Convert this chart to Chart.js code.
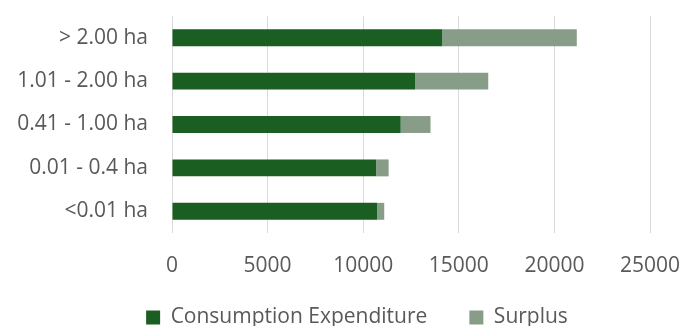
<!DOCTYPE html>
<html>
<head>
<meta charset="utf-8">
<script src="https://cdn.jsdelivr.net/npm/chart.js@4/dist/chart.umd.min.js"></script>
<style>
  html, body { margin: 0; padding: 0; background: #ffffff; overflow: hidden; }
  /* canvas runs a little past the bottom edge so the legend sits low */
  #wrap { width: 681px; height: 350px; position: relative; }
</style>
</head>
<body>
<div id="wrap"><canvas id="landChart"></canvas></div>
<script>
// Land holding classes, largest first (top row)
const categories = ['> 2.00 ha', '1.01 - 2.00 ha', '0.41 - 1.00 ha', '0.01 - 0.4 ha', '<0.01 ha'];
const consumptionExpenditure = [14130, 12710, 11960, 10680, 10730];
const surplus = [7040, 3830, 1560, 650, 370];
const xTicks = [0, 5000, 10000, 15000, 20000, 25000];

const textColor = '#595959';
const gridColor = '#d9d9d9';
const fontFamily = '"Open Sans", "Liberation Sans", sans-serif';
const fontSize = 21;

// move the bottom legend right of centre and pull it up under the axis
const legendShift = {
  id: 'legendShift',
  afterLayout(chart) {
    const dx = 32;
    const dy = -12;
    chart.legend.left += dx;
    chart.legend.right += dx;
    chart.legend.top += dy;
    chart.legend.bottom += dy;
  }
};

const ctx = document.getElementById('landChart');

new Chart(ctx, {
  type: 'bar',
  data: {
    labels: categories,
    datasets: [
      {
        label: 'Consumption Expenditure',
        data: consumptionExpenditure,
        backgroundColor: '#1a5e21',
        borderWidth: 0,
        barPercentage: 0.6,
        categoryPercentage: 0.65
      },
      {
        label: 'Surplus',
        data: surplus,
        backgroundColor: '#889d88',
        borderWidth: 0,
        barPercentage: 0.6,
        categoryPercentage: 0.65
      }
    ]
  },
  plugins: [legendShift],
  options: {
    indexAxis: 'y',
    responsive: true,
    maintainAspectRatio: false,
    animation: false,
    layout: {
      padding: { top: 16, right: 31, bottom: 0, left: 0 }
    },
    scales: {
      x: {
        stacked: true,
        min: 0,
        max: 25000,
        afterBuildTicks: (axis) => {
          axis.ticks = xTicks.map(v => ({ value: v }));
        },
        afterFit: (axis) => {
          axis.height = 44;
          axis.paddingLeft = 0;
          axis.paddingRight = 0;
        },
        ticks: {
          color: textColor,
          font: { family: fontFamily, size: fontSize },
          padding: 20,
          maxRotation: 0,
          callback: (value) => String(value)
        },
        grid: {
          color: gridColor,
          lineWidth: 1,
          drawTicks: false
        },
        border: { display: false }
      },
      y: {
        stacked: true,
        afterFit: (axis) => {
          axis.width = 172;
          axis.paddingTop = 0;
          axis.paddingBottom = 0;
        },
        ticks: {
          color: textColor,
          font: { family: fontFamily, size: fontSize },
          padding: 24
        },
        grid: { display: false, drawTicks: false },
        border: { display: false }
      }
    },
    plugins: {
      legend: {
        position: 'bottom',
        labels: {
          color: textColor,
          font: { family: fontFamily, size: fontSize },
          boxWidth: 14,
          boxHeight: 14,
          padding: 42
        }
      },
      tooltip: { enabled: false }
    }
  }
});
</script>
</body>
</html>
